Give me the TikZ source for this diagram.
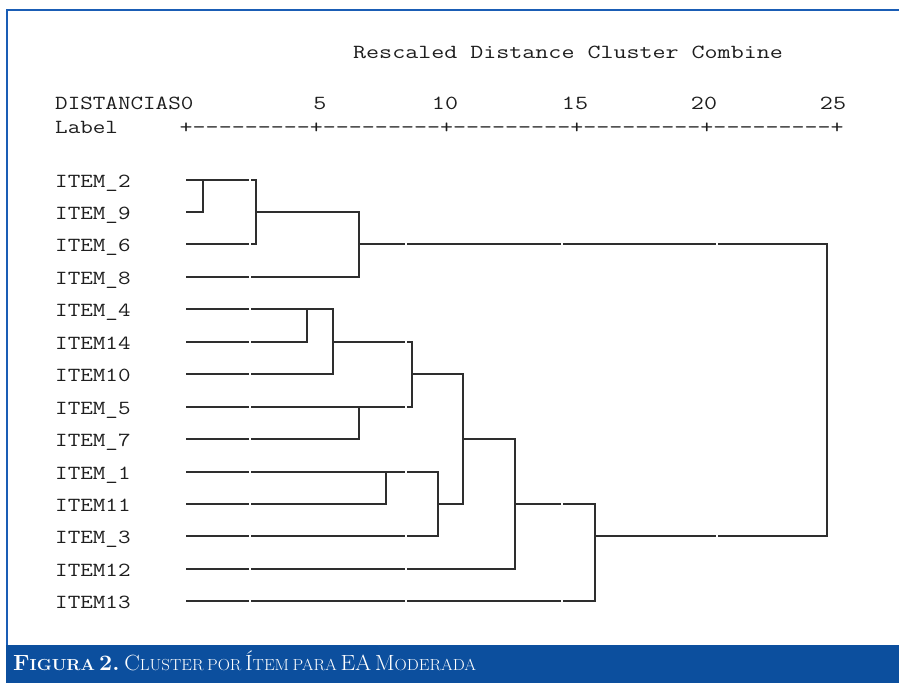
\documentclass[tikz,border=0pt]{standalone}
\usepackage{graphicx}
\definecolor{framebl}{HTML}{1A5DB5}
\definecolor{capbl}{HTML}{0C4F9E}
\definecolor{ink}{HTML}{1E1E1E}
\definecolor{lnk}{HTML}{2E2E2E}
\tikzset{
  spss/.style={inner sep=0pt, anchor=base west, text=ink},
  link/.style={draw=lnk, line width=1.8pt, line join=miter},
  cellgap/.style={fill=white, draw=none},
}
\newcommand\mono[2]{\scalebox{#1}[1]{\fontsize{20}{20}\selectfont\ttfamily #2}}
\newcommand\cbig[1]{{\fontsize{22}{22}\selectfont #1}}
\newcommand\csm[1]{{\fontsize{16}{16}\selectfont #1}}
\begin{document}
\begin{tikzpicture}[x=1pt,y=-1pt]
\useasboundingbox (0,0) rectangle (899,683);
\fill[white] (0,0) rectangle (899,683);
\draw[framebl, line width=2pt] (7,645) -- (7,10) -- (899,10);
\fill[capbl] (6,645) rectangle (899,683);
\node[anchor=base west, inner sep=0pt, text=white] (cap) at (13,670)
  {\scalebox{1.06}[1]{{\bfseries\cbig{F}\csm{IGURA} \cbig{2.}} \cbig{C}\csm{LUSTER} \csm{POR} \cbig{Í}\csm{TEM} \csm{PARA} \cbig{EA} \cbig{M}\csm{ODERADA}}};

% header
\node[spss] (title) at (353,58) {\mono{1.264}{Rescaled Distance Cluster Combine}};
\node[spss] (dist) at (55,109) {\mono{1.22}{DISTANCIAS0}};
\node[spss, anchor=base] (n5) at (320,109) {\mono{1.264}{5}};
\node[spss, anchor=base] (n10) at (445,109) {\mono{1.264}{10}};
\node[spss, anchor=base] (n15) at (575,109) {\mono{1.264}{15}};
\node[spss, anchor=base] (n20) at (704,109) {\mono{1.264}{20}};
\node[spss, anchor=base] (n25) at (833,109) {\mono{1.264}{25}};
\node[spss] (lab) at (55,133) {\mono{1.22}{Label}};
\node[spss] (axis) at (179.5,133) {\mono{1.264}{+---------+---------+---------+---------+---------+}};

% leaves
\foreach \t/\y [count=\i from 0] in {ITEM\_2/180,ITEM\_9/212,ITEM\_6/244,ITEM\_8/277,ITEM\_4/309,ITEM14/342,ITEM10/374,ITEM\_5/407,ITEM\_7/439,ITEM\_1/472,ITEM11/504,ITEM\_3/536,ITEM12/569,ITEM13/601}{
  \node[spss] (l\i) at (55,\y+7) {\mono{1.22}{\t}};
  \coordinate (s\i) at (186,\y);
}

% merges
\coordinate (c29) at (203,180);
\coordinate (c296) at (256,212);
\coordinate (c2968) at (359,244);
\coordinate (c414) at (307,309);
\coordinate (c41410) at (333,342);
\coordinate (c57) at (359,407);
\coordinate (cA) at (412,374);
\coordinate (c111) at (386,472);
\coordinate (c1113) at (438,504);
\coordinate (cB) at (463,439);
\coordinate (cC) at (515,504);
\coordinate (cD) at (595,536);
\coordinate (root) at (827,244);

\draw[link] (s0) -- (s0 -| c29) -- (s1 -| c29) -- (s1);
\draw[link] (c29) -- (c29 -| c296) -- (s2 -| c296) -- (s2);
\draw[link] (c296) -- (c296 -| c2968) -- (s3 -| c2968) -- (s3);
\draw[link] (s4) -- (s4 -| c414) -- (s5 -| c414) -- (s5);
\draw[link] (c414) -- (c414 -| c41410) -- (s6 -| c41410) -- (s6);
\draw[link] (s7) -- (s7 -| c57) -- (s8 -| c57) -- (s8);
\draw[link] (c41410) -- (c41410 -| cA) -- (c57 -| cA) -- (c57);
\draw[link] (s9) -- (s9 -| c111) -- (s10 -| c111) -- (s10);
\draw[link] (c111) -- (c111 -| c1113) -- (s11 -| c1113) -- (s11);
\draw[link] (cA) -- (cA -| cB) -- (c1113 -| cB) -- (c1113);
\draw[link] (cB) -- (cB -| cC) -- (s12 -| cC) -- (s12);
\draw[link] (cC) -- (cC -| cD) -- (s13 -| cD) -- (s13);
\draw[link] (c2968) -- (c2968 -| root) -- (cD -| root) -- (cD);

% small breaks at the character cell boundaries of the text output
\foreach \gx in {250,406,562,717}{
  \foreach \gy in {180,212,244,277,309,342,374,407,439,472,504,536,569,601}{
    \fill[cellgap] (\gx-0.8,\gy-2) rectangle (\gx+0.8,\gy+2);
  }
}
\end{tikzpicture}
\end{document}
